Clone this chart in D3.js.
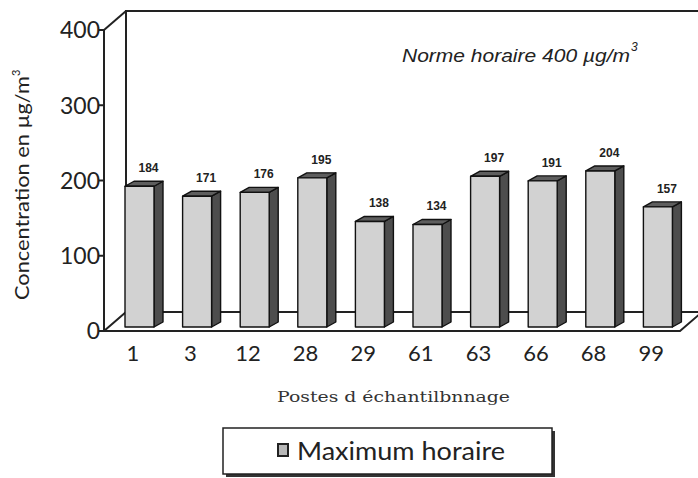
<!DOCTYPE html>
<html><head><meta charset="utf-8">
<script src="https://cdn.jsdelivr.net/npm/d3@7"></script>
<style>body{margin:0;background:#fff}svg{display:block}</style>
</head><body><svg id="c" width="698" height="478"></svg>
<script>
const categories = ["1","3","12","28","29","61","63","66","68","99"];
const values = [184,171,176,195,138,134,197,191,204,157];
const yTicks = [0,100,200,300,400];
const seriesName = "Maximum horaire";
const yTitle = "Concentration en µg/m";
const xTitle = "Postes d échantilbnnage";
const normText = "Norme horaire 400 µg/m";

const svg = d3.select("#c");
const geo = "'Lato','DejaVu Sans',sans-serif";
const depth = {dx: 22, dy: -19};
const bar3d = {dx: 9, dy: -5};

const x = d3.scaleBand().domain(categories).range([104, 680]).padding(0);
const yAxisScale = d3.scaleLinear().domain([0,400]).range([331, 30]);
const yBar = d3.scaleLinear().domain([0,400]).range([327, 21]);

const frame = svg.append("g").attr("stroke","#222").attr("stroke-width",2).attr("fill","none");
const x0 = 104, yb = yAxisScale(0), yt = yAxisScale(400);
frame.append("path").attr("d",
  `M${x0+depth.dx},${yb+depth.dy} V${yt+depth.dy} H698`);
frame.append("path").attr("d",
  `M${x0},${yt} L${x0+depth.dx},${yt+depth.dy}`);
frame.append("path").attr("d",
  `M${x0+depth.dx},${yb+depth.dy} H${680+depth.dx} L680,${yb} H${x0} Z`);
frame.append("path").attr("d", `M${x0},${yt} V${yb}`);

const yt_g = svg.append("g");
yt_g.selectAll("line").data(yTicks).join("line")
  .attr("x1", x0-5).attr("x2", x0).attr("y1", d=>yAxisScale(d)).attr("y2", d=>yAxisScale(d))
  .attr("stroke","#222").attr("stroke-width",2);
yt_g.selectAll("text").data(yTicks).join("text")
  .attr("x", x0-4).attr("y", d=>yAxisScale(d)).attr("dy","0.36em")
  .attr("text-anchor","end").attr("font-family",geo).attr("font-size",23)
  .attr("fill","#222").text(d=>d);

svg.append("g").selectAll("text").data(categories).join("text")
  .attr("x", d=>x(d)+x.bandwidth()/2).attr("y", 353).attr("dy","0.36em")
  .attr("text-anchor","middle").attr("font-family",geo).attr("font-size",22)
  .attr("fill","#222").text(d=>d);

const bw = 29;
const data = categories.map((c,i)=>({c, v: values[i]}));
const bars = svg.append("g").attr("stroke","#111").attr("stroke-width",1.4).attr("stroke-linejoin","round");
data.forEach(d=>{
  const xl = x(d.c) + 21, xr = xl + bw, yTop = yBar(d.v), yBot = yBar(0);
  const g = bars.append("g");
  g.append("path").attr("fill","#4d4d4d").attr("d",
    `M${xr},${yBot} V${yTop} L${xr+bar3d.dx},${yTop+bar3d.dy} V${yBot+bar3d.dy} Z`);
  g.append("path").attr("fill","#5e5e5e").attr("d",
    `M${xl},${yTop} L${xl+bar3d.dx},${yTop+bar3d.dy} H${xr+bar3d.dx} L${xr},${yTop} Z`);
  g.append("rect").attr("x", xl).attr("y", yTop).attr("width", bw).attr("height", yBot-yTop)
    .attr("fill","#d2d2d2");
  svg.append("text").attr("x", xl + bw/2 + bar3d.dx).attr("y", yTop + bar3d.dy - 9)
    .attr("text-anchor","middle").attr("font-family","'Liberation Sans',Arial,sans-serif")
    .attr("font-weight","bold").attr("font-size",12).attr("fill","#222").text(d.v);
});

const ann = svg.append("text").attr("x", 402).attr("y", 62)
  .attr("font-family","'Liberation Sans',Arial,sans-serif").attr("font-style","italic")
  .attr("font-size",19).attr("fill","#222");
ann.append("tspan").attr("textLength",228).attr("lengthAdjust","spacingAndGlyphs").text(normText);
ann.append("tspan").attr("dy",-11).attr("dx",1).attr("font-size",12).text("3");

const yT = svg.append("text").attr("transform","translate(29,300) rotate(-90)")
  .attr("font-family",geo)
  .attr("font-size",20).attr("fill","#222");
yT.append("tspan").attr("textLength",224).attr("lengthAdjust","spacingAndGlyphs").text(yTitle);
yT.append("tspan").attr("dy",-9).attr("font-size",11).text("3");

svg.append("text").attr("x", 277).attr("y", 402)
  .attr("font-family","'DejaVu Serif',serif").attr("font-size",15).attr("fill","#333")
  .attr("textLength",233).attr("lengthAdjust","spacingAndGlyphs")
  .text(xTitle);

const lg = svg.append("g");
lg.append("rect").attr("x",226).attr("y",431).attr("width",329).attr("height",46).attr("fill","#333");
lg.append("rect").attr("x",223).attr("y",428).attr("width",329).attr("height",46)
  .attr("fill","#fff").attr("stroke","#222").attr("stroke-width",1.5);
lg.append("rect").attr("x",278).attr("y",444).attr("width",10).attr("height",12)
  .attr("fill","#b8b8b8").attr("stroke","#222").attr("stroke-width",2);
lg.append("text").attr("x",297).attr("y",460).attr("font-family",geo)
  .attr("font-size",25).attr("fill","#222").attr("textLength",208).attr("lengthAdjust","spacingAndGlyphs")
  .text(seriesName);
</script></body></html>
